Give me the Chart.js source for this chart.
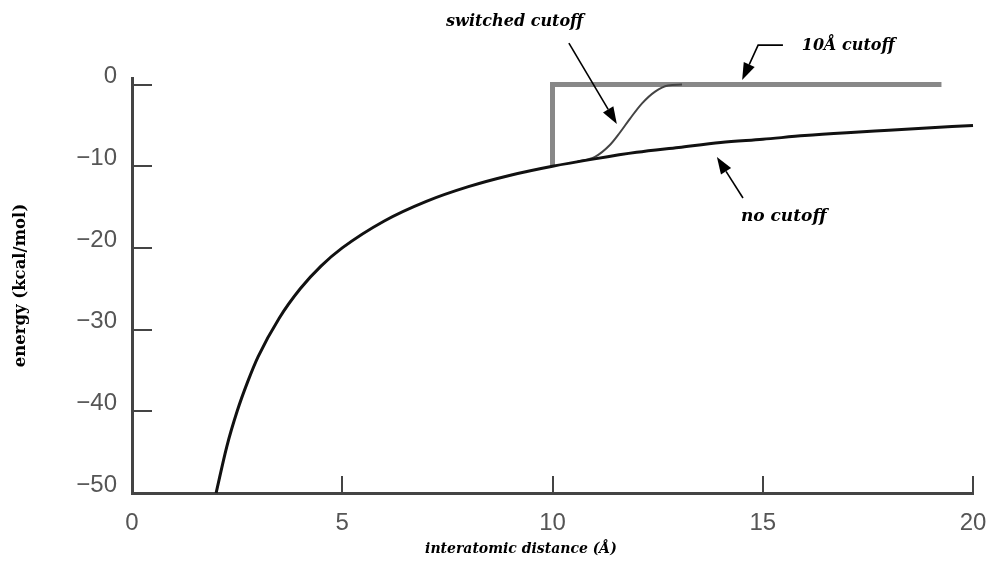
<!DOCTYPE html>
<html><head><meta charset="utf-8">
<script src="https://cdn.jsdelivr.net/npm/chart.js@4/dist/chart.umd.min.js"></script>
<style>html,body{margin:0;padding:0;background:#fff}#wrap{width:990px;height:578px;position:relative}</style>
</head><body><div id="wrap"><canvas id="c" width="990" height="578"></canvas></div>
<script>
const xTicks=[0,5,10,15,20];
const yTicks=[0,-10,-20,-30,-40,-50];
const noCutoffX=[2,2.25,2.5,2.75,3,3.5,4,4.5,5,6,7,8,9,10,11,12,13,14,15,16,17,18,19,20];
const noCutoffY=[-50,-44.4,-40,-36.4,-33.3,-28.6,-25,-22.2,-20,-16.7,-14.3,-12.5,-11.1,-10,-9.1,-8.3,-7.7,-7.1,-6.7,-6.25,-5.9,-5.6,-5.3,-5];
const hardCutoffX=[10,10,19.25];
const hardCutoffY=[-10,0,0];
const switchedX=[10.6,11.01,11.37,11.6,11.84,12.13,12.44,12.75,13.08];
const switchedY=[-9.43,-8.85,-7.37,-5.9,-4.2,-2.3,-0.86,-0.12,0];
const xTitle='interatomic distance (Å)';
const yTitle='energy (kcal/mol)';

const pts=(xs,ys)=>xs.map((v,i)=>({x:v,y:ys[i]}));

const labels=[
  {text:'switched cutoff',x:7.47,y:7.65,size:16},
  {text:'10Å cutoff',x:15.93,y:4.71,size:16},
  {text:'no cutoff',x:14.48,y:-16.2,size:17}
];
const arrows=[
  [[10.39,5.08],[11.53,-4.83]],
  [[15.48,4.83],[14.89,4.83],[14.51,0.55]],
  [[14.53,-13.89],[13.91,-8.87]]
];

const overlay={id:'overlay',afterDatasetsDraw(chart){
  const {ctx,scales:{x,y}}=chart;
  ctx.save();
  ctx.strokeStyle='#444';ctx.lineWidth=2;
  yTicks.forEach(v=>{if(v===-50)return;const py=Math.round(y.getPixelForValue(v));ctx.beginPath();ctx.moveTo(x.left,py);ctx.lineTo(x.left+20,py);ctx.stroke();});
  xTicks.forEach(v=>{if(v===0)return;const px=Math.round(x.getPixelForValue(v));ctx.beginPath();ctx.moveTo(px,y.bottom);ctx.lineTo(px,y.bottom-17);ctx.stroke();});
  ctx.strokeStyle='#000';ctx.fillStyle='#000';ctx.lineWidth=1.6;
  arrows.forEach(a=>{
    const p=a.map(q=>[x.getPixelForValue(q[0]),y.getPixelForValue(q[1])]);
    const n=p.length;const tip=p[n-1],prev=p[n-2];
    const ang=Math.atan2(tip[1]-prev[1],tip[0]-prev[0]);
    const L=17,W=6;
    const bx=tip[0]-L*Math.cos(ang),by=tip[1]-L*Math.sin(ang);
    ctx.beginPath();ctx.moveTo(p[0][0],p[0][1]);
    for(let i=1;i<n-1;i++)ctx.lineTo(p[i][0],p[i][1]);
    ctx.lineTo(bx,by);ctx.stroke();
    ctx.beginPath();ctx.moveTo(tip[0],tip[1]);
    ctx.lineTo(bx+W*Math.sin(ang),by-W*Math.cos(ang));
    ctx.lineTo(bx-W*Math.sin(ang),by+W*Math.cos(ang));
    ctx.closePath();ctx.fill();
  });
  ctx.textAlign='left';ctx.textBaseline='middle';
  labels.forEach(l=>{ctx.font='italic bold '+l.size+'px "DejaVu Serif"';ctx.fillText(l.text,x.getPixelForValue(l.x),y.getPixelForValue(l.y));});
  ctx.textAlign='center';
  ctx.font='italic bold 14px "DejaVu Serif"';
  ctx.fillText(xTitle,x.getPixelForValue(9.25),y.bottom+56);
  ctx.restore();
}};

new Chart(document.getElementById('c'),{
  type:'line',
  data:{datasets:[
    {label:'no cutoff',data:pts(noCutoffX,noCutoffY),borderColor:'#111',borderWidth:3,pointRadius:0,cubicInterpolationMode:'monotone',clip:false,order:0},
    {label:'switched cutoff',data:pts(switchedX,switchedY),borderColor:'#444',borderWidth:2,pointRadius:0,cubicInterpolationMode:'monotone',clip:false,order:1},
    {label:'10Å cutoff',data:pts(hardCutoffX,hardCutoffY),borderColor:'#888',borderWidth:5,pointRadius:0,tension:0,clip:false,order:2,borderCapStyle:'butt',borderJoinStyle:'miter'}
  ]},
  options:{
    responsive:false,animation:false,
    layout:{padding:{top:78,right:17,left:0,bottom:0}},
    plugins:{legend:{display:false},tooltip:{enabled:false}},
    scales:{
      x:{type:'linear',min:0,max:20,
        afterBuildTicks:s=>{s.ticks=xTicks.map(v=>({value:v}));},
        afterFit:s=>{s.height=85;s.paddingRight=0;s.paddingLeft=0;},
        grid:{display:false,drawTicks:false},
        border:{display:true,width:3,color:'#444'},
        ticks:{padding:16,color:'#555',font:{family:'Liberation Sans',size:24},maxRotation:0}},
      y:{type:'linear',min:-50,max:0.8,
        afterBuildTicks:s=>{s.ticks=yTicks.map(v=>({value:v}));},
        afterFit:s=>{s.width=132;s.paddingTop=0;s.paddingBottom=0;},
        grid:{display:false,drawTicks:false},
        border:{display:true,width:3,color:'#444'},
        ticks:{padding:15,labelOffset:-8,color:'#555',font:{family:'Liberation Sans',size:24},
          callback:v=>v<0?'\u2212'+Math.abs(v):String(v)},
        title:{display:true,text:yTitle,color:'#000',font:{family:'DejaVu Serif',weight:'bold',size:16.5},padding:{top:11,bottom:0}}}
    }
  },
  plugins:[overlay]
});
</script></body></html>
